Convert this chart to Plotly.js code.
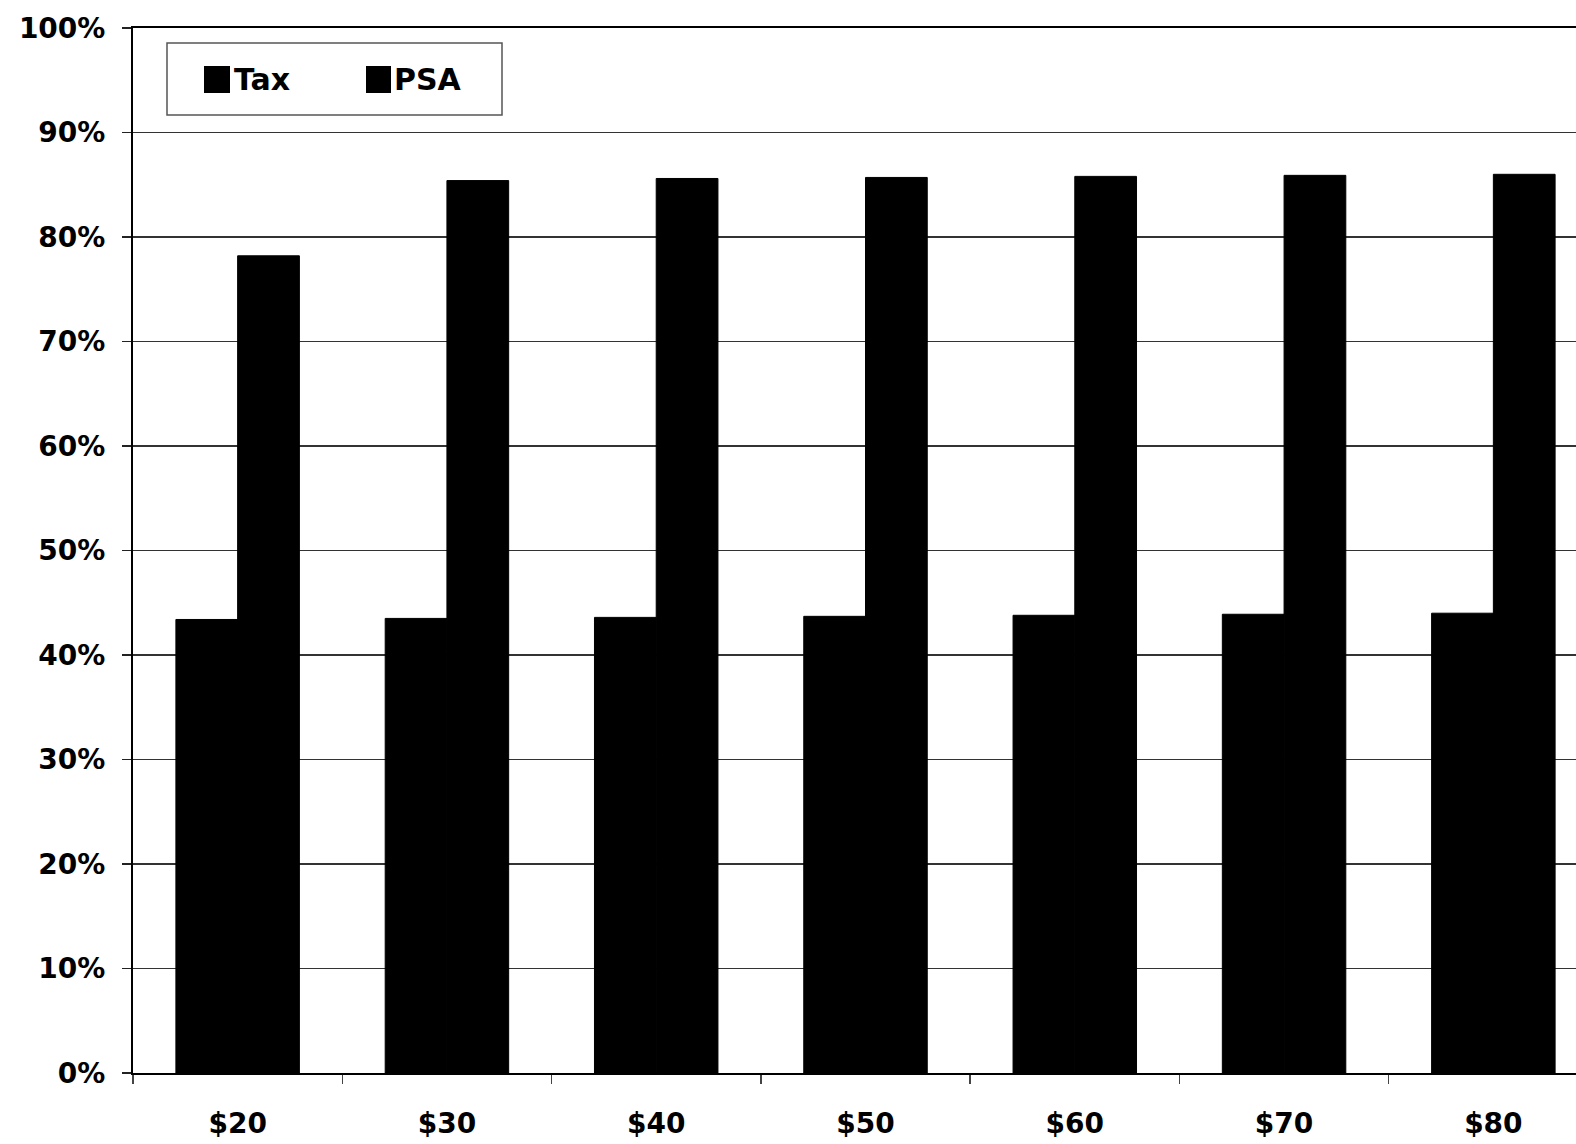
<!DOCTYPE html>
<html>
<head>
<meta charset="utf-8">
<script src="https://cdn.plot.ly/plotly-3.0.1.min.js"></script>
<style>
  html, body { margin: 0; padding: 0; background: #fff; overflow: hidden; }
  #chart { width: 1610px; height: 1144px; }
</style>
</head>
<body>
<div id="chart"></div>
<script>
const categories = ['$20', '$30', '$40', '$50', '$60', '$70', '$80'];
const seriesNames = ['Tax', 'PSA'];
const taxValues = [43.4, 43.5, 43.6, 43.7, 43.8, 43.9, 44.0];
const psaValues = [78.2, 85.4, 85.6, 85.7, 85.8, 85.9, 86.0];
const yTickValues = [0, 10, 20, 30, 40, 50, 60, 70, 80, 90, 100];
const yTickLabels = ['0%', '10%', '20%', '30%', '40%', '50%', '60%', '70%', '80%', '90%', '100%'];

const W = 1610, H = 1144;
const M = { l: 133, r: 12, t: 28, b: 71 };
const PW = W - M.l - M.r, PH = H - M.t - M.b;
const px = x => (x - M.l) / PW;
const py = y => (H - M.b - y) / PH;

const FONT = 'DejaVu Sans, Liberation Sans, Arial, sans-serif';

const traces = [
  { type: 'bar', name: seriesNames[0], x: categories, y: taxValues,
    marker: { color: '#000000', line: { width: 1, color: '#000000' } }, showlegend: false },
  { type: 'bar', name: seriesNames[1], x: categories, y: psaValues,
    marker: { color: '#000000', line: { width: 1, color: '#000000' } }, showlegend: false }
];

const shapes = [
  { type: 'rect', xref: 'paper', yref: 'paper', x0: px(167), x1: px(502), y0: py(115), y1: py(43),
    line: { color: '#555', width: 1.5 }, fillcolor: '#ffffff', layer: 'above' },
  { type: 'rect', xref: 'paper', yref: 'paper', x0: px(204), x1: px(230), y0: py(93), y1: py(66),
    line: { width: 0 }, fillcolor: '#000000', layer: 'above' },
  { type: 'rect', xref: 'paper', yref: 'paper', x0: px(366), x1: px(391), y0: py(93), y1: py(66),
    line: { width: 0 }, fillcolor: '#000000', layer: 'above' }
];

const annotations = [
  { xref: 'paper', yref: 'paper', x: px(232), y: py(79), xanchor: 'left', yanchor: 'middle',
    text: seriesNames[0], showarrow: false, font: { family: FONT, size: 30, color: '#000', weight: 'bold' } },
  { xref: 'paper', yref: 'paper', x: px(392), y: py(79), xanchor: 'left', yanchor: 'middle',
    text: seriesNames[1], showarrow: false, font: { family: FONT, size: 30, color: '#000', weight: 'bold' } }
];

const layout = {
  width: W, height: H,
  margin: M,
  paper_bgcolor: '#ffffff',
  plot_bgcolor: '#ffffff',
  barmode: 'group',
  bargap: 0.41,
  bargroupgap: 0,
  showlegend: false,
  font: { family: FONT, size: 28, color: '#000' },
  xaxis: {
    type: 'category',
    range: [-0.5, 6.5],
    showgrid: false,
    showline: true, linecolor: '#000', linewidth: 2, mirror: true,
    ticks: 'outside', tickson: 'boundaries', ticklen: 9, tickwidth: 1.5, tickcolor: '#444',
    ticklabelstandoff: 24,
    tickfont: { family: FONT, size: 28, color: '#000', weight: 'bold' },
    zeroline: false, fixedrange: true
  },
  yaxis: {
    range: [0, 100],
    tickvals: yTickValues, ticktext: yTickLabels,
    showgrid: true, gridcolor: '#333333', gridwidth: 1.8,
    showline: true, linecolor: '#000', linewidth: 2,
    ticks: 'outside', ticklen: 9, tickwidth: 1.5, tickcolor: '#222',
    ticklabelstandoff: 11,
    tickfont: { family: FONT, size: 28, color: '#000', weight: 'bold' },
    zeroline: false, fixedrange: true
  },
  shapes: shapes,
  annotations: annotations
};

Plotly.newPlot('chart', traces, layout, { displayModeBar: false, staticPlot: true });
</script>
</body>
</html>
